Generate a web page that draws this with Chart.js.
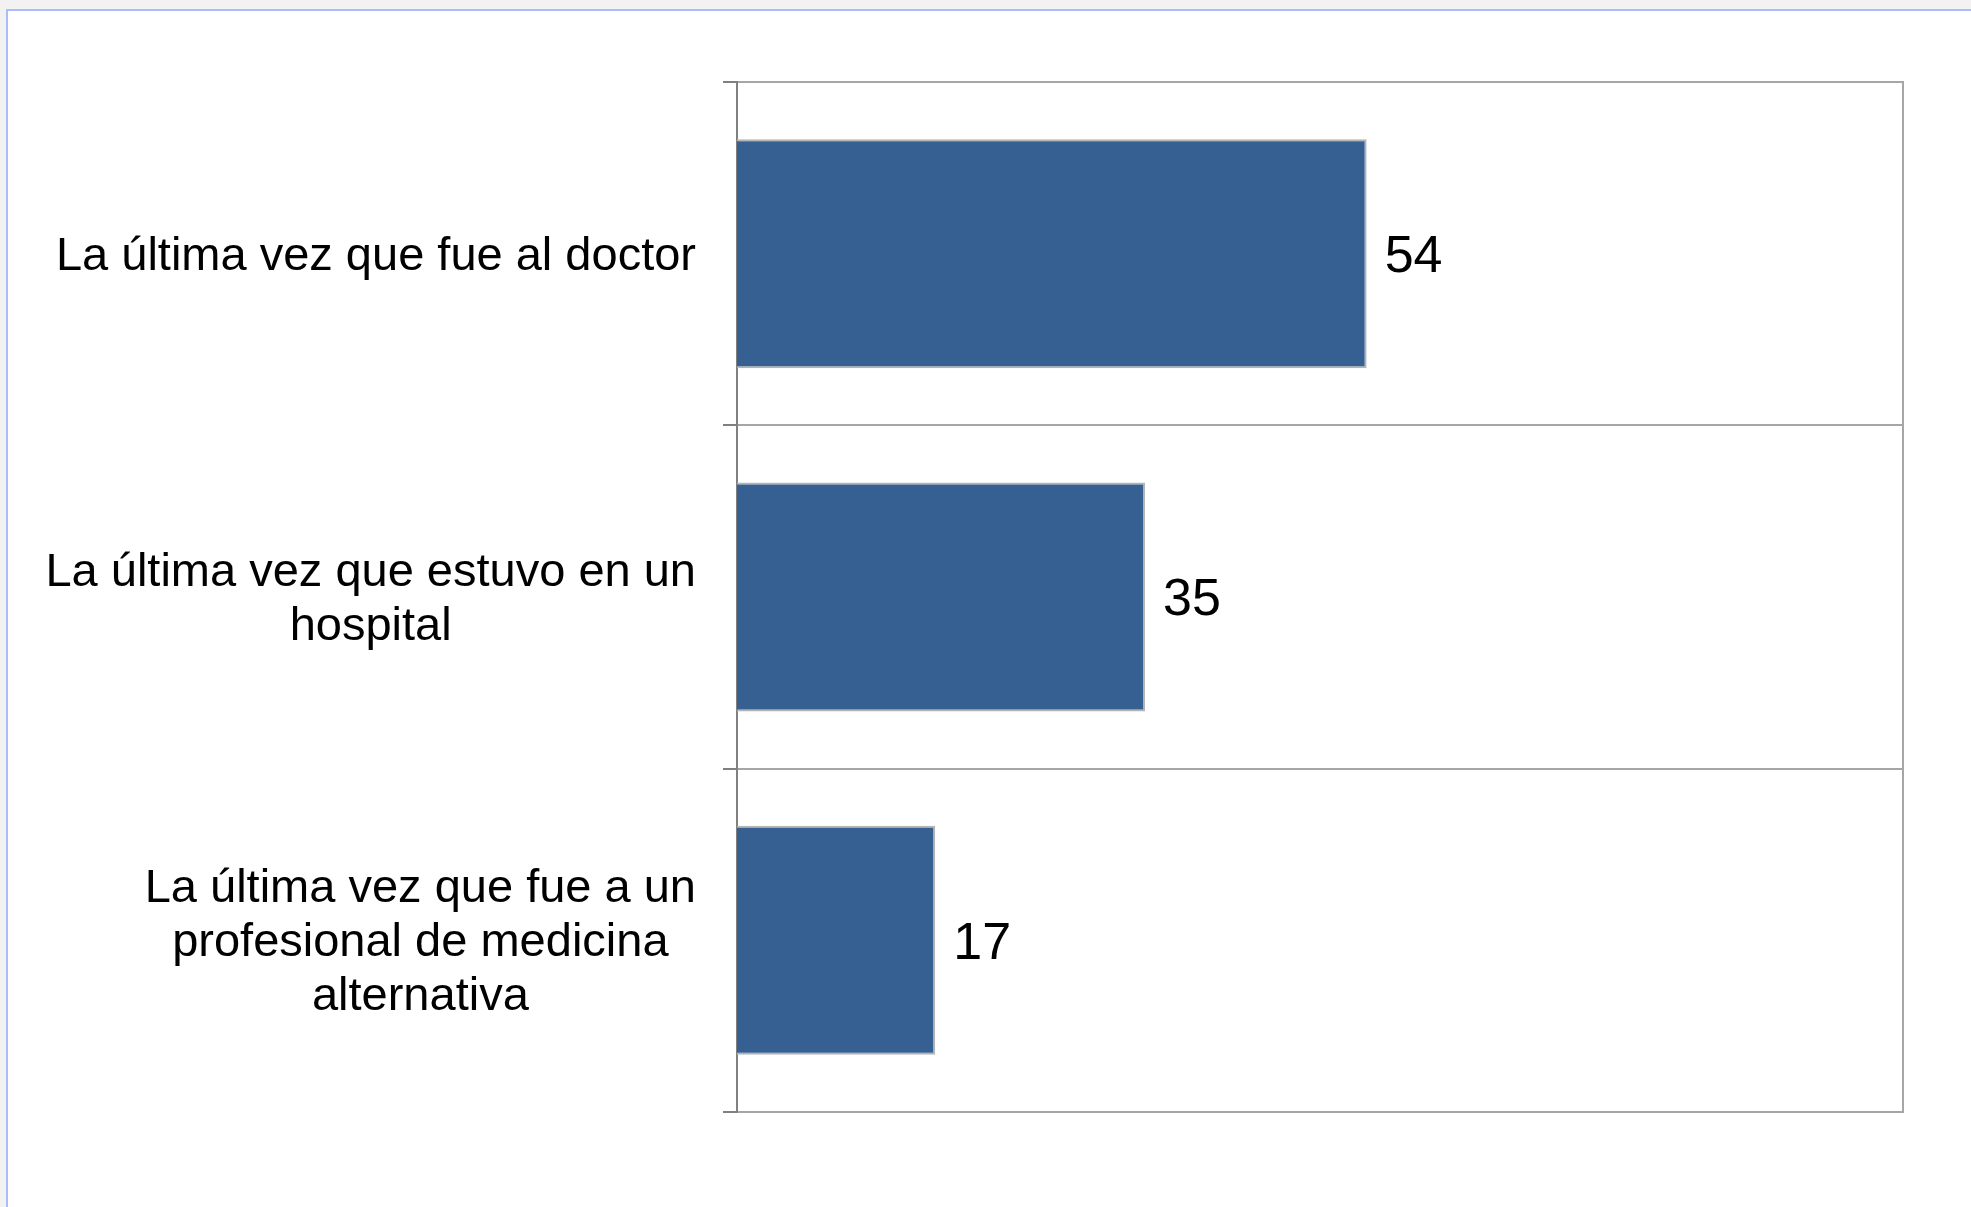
<!DOCTYPE html>
<html>
<head>
<meta charset="utf-8">
<script src="https://cdn.jsdelivr.net/npm/chart.js@4"></script>
<style>
  html, body { margin:0; padding:0; background:#f2f2f2; overflow:hidden; }
  #panel { position:absolute; left:6px; top:9px; width:2100px; height:1300px; background:#fff;
           border-left:2px solid #aabcff; border-top:2px solid #aabcff; }
  #c { position:absolute; left:0; top:0; }
</style>
</head>
<body>
<div id="panel"></div>
<canvas id="c" width="1971" height="1207"></canvas>
<script>
const categories = [
  ["La última vez que fue al doctor"],
  ["La última vez que estuvo en un", "hospital"],
  ["La última vez que fue a un", "profesional de medicina", "alternativa"]
];
const values = [54, 35, 17];
const xMin = 0;
const xMax = 100;

const FONT = "'Liberation Sans', Arial, sans-serif";

const decor = {
  id: 'decor',
  afterDatasetsDraw(chart) {
    const ctx = chart.ctx;
    const a = chart.chartArea;
    // right frame line
    ctx.save();
    ctx.strokeStyle = '#a6a6a6';
    ctx.lineWidth = 2;
    ctx.beginPath();
    ctx.moveTo(a.right, a.top - 1);
    ctx.lineTo(a.right, a.bottom + 1);
    ctx.stroke();
    // value labels
    const meta = chart.getDatasetMeta(0);
    ctx.fillStyle = '#000';
    ctx.font = '52px ' + FONT;
    ctx.textAlign = 'left';
    ctx.textBaseline = 'middle';
    meta.data.forEach((bar, i) => {
      ctx.fillText(String(values[i]), bar.x + 18, bar.y + 4);
    });
    // category labels: block right-aligned, lines centered
    const y = chart.scales.y;
    ctx.font = '47px ' + FONT;
    ctx.textAlign = 'center';
    const rightEdge = a.left - 41;
    const lh = 54;
    categories.forEach((lines, i) => {
      const cy = y.getPixelForTick(i) + 3;
      let maxW = 0;
      lines.forEach(l => { maxW = Math.max(maxW, ctx.measureText(l).width); });
      const cx = rightEdge - maxW / 2;
      lines.forEach((l, j) => {
        ctx.fillText(l, cx, cy + (j - (lines.length - 1) / 2) * lh);
      });
    });
    ctx.restore();
  }
};

new Chart(document.getElementById('c'), {
  type: 'bar',
  data: {
    labels: categories,
    datasets: [{
      data: values,
      backgroundColor: '#376092',
      borderColor: '#b4b4b4',
      borderWidth: 2,
      barPercentage: 0.667,
      categoryPercentage: 1.0
    }]
  },
  options: {
    indexAxis: 'y',
    responsive: false,
    animation: false,
    layout: { padding: { left: 0, top: 82, right: 68, bottom: 95 } },
    plugins: { legend: { display: false }, tooltip: { enabled: false } },
    scales: {
      x: {
        min: xMin, max: xMax,
        display: false
      },
      y: {
        position: 'left',
        grid: { display: true, offset: true, color: '#a6a6a6', lineWidth: 2,
                drawTicks: true, tickLength: 14, tickColor: '#808080' },
        border: { display: true, color: '#808080', width: 2 },
        ticks: { display: false },
        afterFit(scale) { scale.width = 737; }
      }
    }
  },
  plugins: [decor]
});
</script>
</body>
</html>
